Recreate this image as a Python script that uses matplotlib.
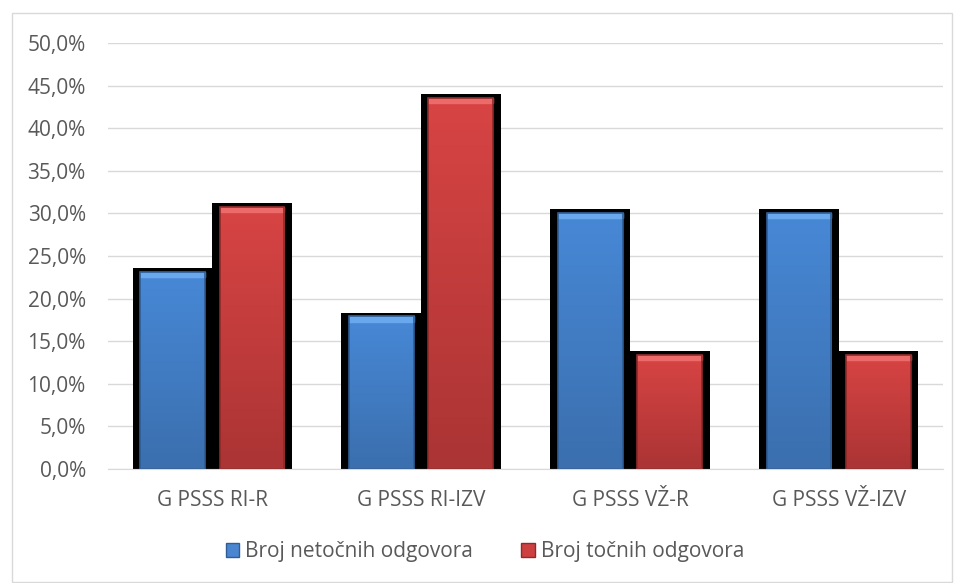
import numpy as np
import matplotlib.pyplot as plt
from matplotlib.patches import Rectangle
from matplotlib.colors import LinearSegmentedColormap

categories = ["G PSSS RI-R", "G PSSS RI-IZV", "G PSSS VŽ-R", "G PSSS VŽ-IZV"]
netocni = [23.1, 17.9, 30.1, 30.1]
tocni = [30.8, 43.6, 13.4, 13.4]
series_names = ["Broj netočnih odgovora", "Broj točnih odgovora"]
yticks = np.arange(0, 55, 5)

plt.rcParams["font.family"] = ["Open Sans", "DejaVu Sans"]

fig = plt.figure(figsize=(9.58, 5.83), dpi=100)
fig.patches.append(Rectangle((12 / 958, 1 / 583), 940 / 958, 569 / 583,
                             transform=fig.transFigure, fill=False,
                             edgecolor="#d9d9d9", linewidth=1))
ax = fig.add_axes([108 / 958, 114 / 583, 835 / 958, 426 / 583])

x = np.arange(len(categories))
width = 0.31
offset = 0.19

blue_cmap = LinearSegmentedColormap.from_list("b", ["#3b6fae", "#4788d6"])
red_cmap = LinearSegmentedColormap.from_list("r", ["#ab3434", "#d84444"])
grad = np.linspace(0, 1, 100).reshape(-1, 1)

def draw_bars(xs, vals, cmap, top_color, edge_color):
    # black shadow behind the bar
    ax.bar(xs, np.array(vals) + 0.45, width=width + 0.075, color="black", zorder=2)
    bars = ax.bar(xs, vals, width=width, color="none", zorder=3)
    for b in bars:
        bx, bw, bh = b.get_x(), b.get_width(), b.get_height()
        im = ax.imshow(grad, extent=[bx, bx + bw, 0, bh], origin="lower",
                       cmap=cmap, aspect="auto", zorder=3)
        im.set_clip_path(b)
        ax.add_patch(Rectangle((bx, bh - 0.6), bw, 0.6, color=top_color, zorder=4))
        ax.add_patch(Rectangle((bx, 0), bw, bh, fill=False,
                               edgecolor=edge_color, linewidth=1.2, zorder=4))
    return bars

draw_bars(x - offset, netocni, blue_cmap, "#6aa8ee", "#2f5d95")
draw_bars(x + offset, tocni, red_cmap, "#ec6a6a", "#8f2a2a")

ax.set_xlim(-0.5, len(categories) - 0.5)
ax.set_ylim(0, 50)
ax.set_yticks(yticks)
ax.set_yticklabels([f"{v:.1f}%".replace(".", ",") for v in yticks])
ax.set_xticks(x)
ax.set_xticklabels(categories)
ax.tick_params(axis="both", length=0, labelsize=15, colors="#595959")
ax.tick_params(axis="y", pad=16)
ax.tick_params(axis="x", pad=15)
ax.yaxis.grid(True, color="#d9d9d9", linewidth=1)
ax.set_axisbelow(True)
for s in ["top", "right", "left"]:
    ax.spines[s].set_visible(False)
ax.spines["bottom"].set_color("#d9d9d9")
ax.spines["bottom"].set_zorder(5)

handles = [Rectangle((0, 0), 1, 1, facecolor="#4a85d0", edgecolor="#2f5d95"),
           Rectangle((0, 0), 1, 1, facecolor="#cc4040", edgecolor="#8f2a2a")]
fig.legend(handles, series_names, loc="center", bbox_to_anchor=(485 / 958, 1 - 552 / 583),
           ncol=2, frameon=False, fontsize=15, handlelength=0.65, handleheight=0.65,
           handletextpad=0.3, columnspacing=2.3, labelcolor="#595959")

fig.savefig("out.png", dpi=100)
